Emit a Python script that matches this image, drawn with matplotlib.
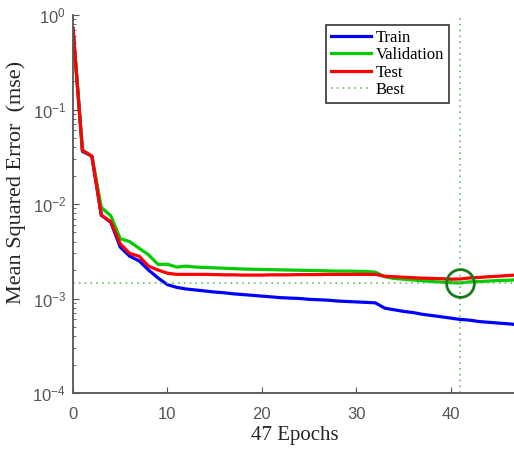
import matplotlib
matplotlib.use("Agg")
import matplotlib.pyplot as plt
import numpy as np

plt.rcParams['mathtext.fontset'] = 'custom'
plt.rcParams['mathtext.rm'] = 'Liberation Sans'
plt.rcParams['mathtext.it'] = 'Liberation Sans'
plt.rcParams['mathtext.bf'] = 'Liberation Sans'
plt.rcParams['font.family'] = ['Liberation Sans', 'DejaVu Sans']

epochs = list(range(48))
train = [0.72, 0.036, 0.032, 0.0076, 0.0064, 0.0035, 0.0028, 0.0025, 0.0020, 0.00165,
         0.0014, 0.00131, 0.00126, 0.00123, 0.0012, 0.00117, 0.00115, 0.00112, 0.0011, 0.00108,
         0.00106, 0.00104, 0.00102, 0.00101, 0.0010, 0.00098, 0.00097, 0.00096, 0.00094, 0.00093,
         0.00092, 0.00091, 0.0009, 0.00079, 0.00076, 0.00073, 0.00071, 0.00068, 0.00066, 0.00064,
         0.00062, 0.0006, 0.00059, 0.00057, 0.00056, 0.00055, 0.00054, 0.00053]
validation = [0.72, 0.037, 0.032, 0.0092, 0.0075, 0.0043, 0.0040, 0.0034, 0.0029, 0.0023,
              0.0023, 0.00215, 0.0022, 0.00215, 0.00213, 0.00211, 0.00209, 0.00207, 0.00205, 0.00204,
              0.00203, 0.00202, 0.00201, 0.002, 0.00199, 0.00198, 0.00197, 0.00196, 0.00195, 0.00195,
              0.00194, 0.00193, 0.0019, 0.0017, 0.00163, 0.0016, 0.00157, 0.00154, 0.00151, 0.00149,
              0.00147, 0.00146, 0.0015, 0.00151, 0.00153, 0.00155, 0.00156, 0.00158]
test = [0.72, 0.037, 0.032, 0.0076, 0.0065, 0.0038, 0.0030, 0.0028, 0.0022, 0.0020,
        0.00185, 0.0018, 0.0018, 0.0018, 0.0018, 0.00179, 0.00178, 0.00178, 0.00177, 0.00177,
        0.00177, 0.00178, 0.00178, 0.00178, 0.00179, 0.00179, 0.00179, 0.0018, 0.0018, 0.0018,
        0.0018, 0.0018, 0.0018, 0.00172, 0.0017, 0.00168, 0.00166, 0.00164, 0.00163, 0.00162,
        0.0016, 0.00161, 0.00165, 0.00167, 0.0017, 0.00172, 0.00175, 0.00177]
best_epoch = 41
best_value = 0.00146

W, H = 514, 450
ax_l, ax_r, ax_t, ax_b = 73, 517, 15, 393
fig = plt.figure(figsize=(W/100, H/100), dpi=100)
ax = fig.add_axes([ax_l/W, (H-ax_b)/H, (ax_r-ax_l)/W, (ax_b-ax_t)/H])

ax.semilogy(epochs, train, color='#0000ff', lw=2.3, label='Train')
ax.semilogy(epochs, validation, color='#00cc00', lw=2.3, label='Validation')
ax.semilogy(epochs, test, color='#ff0000', lw=2.3, label='Test')
ax.axhline(best_value, color='#66bb66', lw=1.2, ls=(0, (1, 2.5)), label='Best')
ax.axvline(best_epoch, color='#66bb66', lw=1.2, ls=(0, (1, 2.5)))
ax.plot([best_epoch], [best_value], 'o', ms=20, mfc='none', mec='#1a7a1a', mew=2)

ax.set_xlim(0, 47)
ax.set_ylim(1e-4, 1)
ax.set_xticks([0, 10, 20, 30, 40])
ax.set_yticks([1e-4, 1e-3, 1e-2, 1e-1, 1])
ax.spines['top'].set_visible(False)
ax.spines['right'].set_visible(False)
for s in ['left', 'bottom']:
    ax.spines[s].set_color('#555555')
    ax.spines[s].set_linewidth(1.3)
ax.tick_params(axis='both', which='both', direction='in', colors='#555555', labelsize=12)
ax.tick_params(axis='both', which='major', length=4)
ax.tick_params(axis='x', which='major', pad=10)
ax.tick_params(axis='y', which='major', pad=5)
ax.tick_params(axis='y', which='minor', length=2)

ax.set_xlabel('47 Epochs', family='Liberation Serif', fontsize=15, color='#262626')
ax.set_ylabel('Mean Squared Error  (mse)', family='Liberation Serif', fontsize=16, color='#262626')
ax.xaxis.set_label_coords((295-ax_l)/(ax_r-ax_l), (ax_b-426)/(ax_b-ax_t))
ax.yaxis.set_label_coords((26-ax_l)/(ax_r-ax_l), (ax_b-182)/(ax_b-ax_t))

leg = ax.legend(loc='upper right', bbox_to_anchor=((449-ax_l)/(ax_r-ax_l), (ax_b-25)/(ax_b-ax_t)),
                prop={'family': 'Liberation Serif', 'size': 12},
                fancybox=False, edgecolor='#333333', framealpha=1, handlelength=2.4, borderpad=0.3,
                labelspacing=0.08, handletextpad=0.25, borderaxespad=0)
leg.get_frame().set_linewidth(1.2)

fig.savefig('out.png', dpi=100)
